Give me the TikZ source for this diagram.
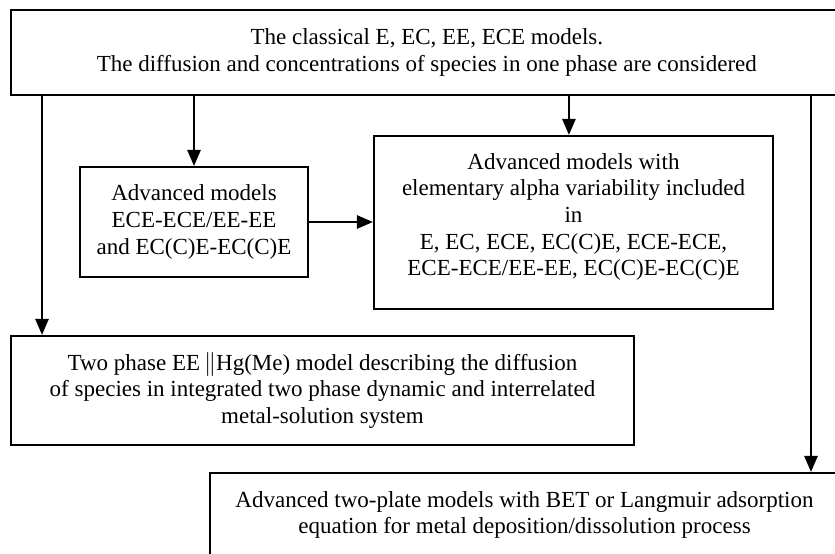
\documentclass[tikz,border=0pt]{standalone}
\usepackage{fontspec}
\setmainfont{Liberation Serif}
\usetikzlibrary{arrows.meta}

\begin{document}
\begin{tikzpicture}[>={Triangle[length=8pt,width=6.5pt]},
 box/.style={draw,line width=1pt,inner sep=0pt,align=center,font=\fontsize{11.5}{13.3}\selectfont},
 link/.style={->,line width=1.3pt}]
\useasboundingbox (0,0) rectangle (14.672,-9.734);
\node[box,minimum width=14.62cm,minimum height=1.494cm] (classic) at (7.50,-0.92) {The classical E, EC, EE, ECE models.\\The diffusion and concentrations of species in one phase are considered};
\node[box,minimum width=4.006cm,minimum height=1.933cm] (ece) at (3.409,-3.901) {Advanced models\\ECE-ECE/EE-EE\\and EC(C)E-EC(C)E};
\node[box,minimum width=7.011cm,minimum height=3.040cm] (alpha) at (10.077,-3.909) {Advanced models with\\elementary alpha variability included\\in\\E, EC, ECE, EC(C)E, ECE-ECE,\\ECE-ECE/EE-EE, EC(C)E-EC(C)E\rule[-8pt]{0pt}{0pt}};
\node[box,minimum width=10.946cm,minimum height=1.915cm] (twophase) at (5.666,-6.861) {Two phase EE$\,\|$Hg(Me) model describing the diffusion\\of species in integrated two phase dynamic and interrelated\\metal-solution system};
\node[box,minimum width=11.05cm,minimum height=1.476cm] (plate) at (9.216,-9.049) {Advanced two-plate models with BET or Langmuir adsorption\\equation for metal deposition/dissolution process};
\coordinate (lft) at (0.738,0);
\coordinate (mid) at (9.997,0);
\coordinate (rgt) at (14.25,0);
\draw[link] (classic.south -| lft) -- (twophase.north -| lft);
\draw[link] (classic.south -| ece.north) -- (ece.north);
\draw[link] (classic.south -| mid) -- (alpha.north -| mid);
\draw[link] (classic.south -| rgt) -- (plate.north -| rgt);
\draw[link] (ece.east) -- (ece.east -| alpha.west);
\end{tikzpicture}
\end{document}
